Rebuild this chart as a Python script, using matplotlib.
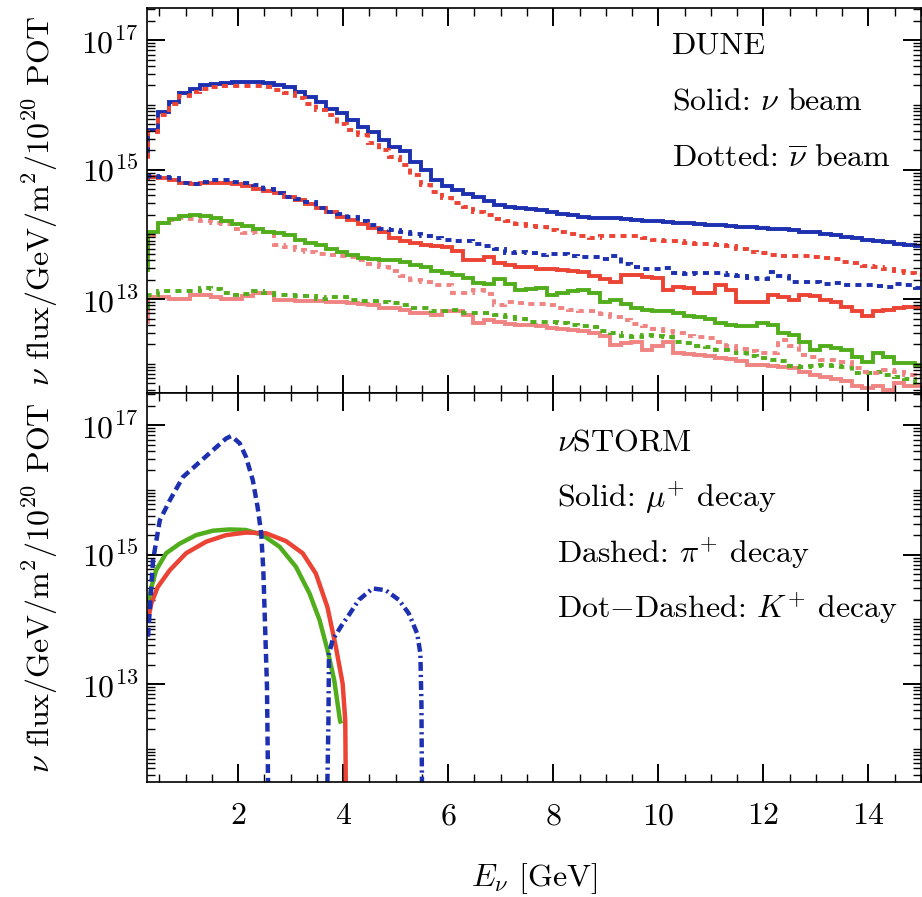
import numpy as np
import matplotlib
matplotlib.use('Agg')
import matplotlib.pyplot as plt
from matplotlib import ticker

plt.rcParams['font.family'] = 'serif'
plt.rcParams['font.serif'] = ['cmr10']
plt.rcParams['mathtext.fontset'] = 'cm'
plt.rcParams['axes.formatter.use_mathtext'] = True
plt.rcParams['axes.unicode_minus'] = False

# ---------------- DUNE fluxes (per GeV per m^2 per 1e20 POT), 0.2 GeV bins ----------------
bin_edges = np.linspace(0.08, 15.08, 76)

numu_nubeam = [1.6e15, 4.1e15, 7.8e15, 1.12e16, 1.51e16, 1.78e16, 2.0e16, 2.09e16, 2.19e16, 2.24e16,
               2.24e16, 2.29e16, 2.19e16, 2.0e16, 1.86e16, 1.58e16, 1.32e16, 1.12e16, 8.7e15, 7.4e15,
               5.75e15, 4.57e15, 3.8e15, 2.88e15, 2.24e15, 1.91e15, 1.32e15, 1.0e15, 6.9e14, 5.5e14,
               4.9e14, 4.27e14, 3.72e14, 3.24e14, 2.82e14, 2.69e14, 2.51e14, 2.45e14, 2.34e14, 2.24e14,
               2.09e14, 2.0e14, 1.86e14, 1.82e14, 1.82e14, 1.78e14, 1.74e14, 1.66e14, 1.62e14, 1.58e14,
               1.55e14, 1.51e14, 1.48e14, 1.45e14, 1.41e14, 1.38e14, 1.35e14, 1.32e14, 1.29e14, 1.26e14,
               1.23e14, 1.20e14, 1.15e14, 1.10e14, 1.07e14, 1.02e14, 9.8e13, 9.1e13, 8.7e13, 8.3e13,
               7.9e13, 7.6e13, 7.2e13, 6.8e13, 6.5e13]

numubar_nubarbeam = [1.48e15, 3.8e15, 6.9e15, 1.05e16, 1.35e16, 1.58e16, 1.78e16, 1.91e16, 1.95e16, 1.95e16,
                     1.95e16, 1.95e16, 1.86e16, 1.70e16, 1.51e16, 1.26e16, 1.05e16, 8.3e15, 6.9e15, 5.1e15,
                     4.1e15, 3.4e15, 2.57e15, 2.0e15, 1.55e15, 1.17e15, 8.3e14, 5.75e14, 4.57e14, 3.63e14,
                     3.09e14, 2.63e14, 2.24e14, 2.0e14, 1.70e14, 1.58e14, 1.45e14, 1.35e14, 1.29e14, 1.17e14,
                     1.10e14, 1.02e14, 9.3e13, 8.9e13, 9.3e13, 9.5e13, 9.5e13, 9.3e13, 8.7e13, 8.1e13,
                     7.9e13, 7.8e13, 7.4e13, 7.2e13, 7.1e13, 6.9e13, 6.5e13, 5.9e13, 5.4e13, 5.1e13,
                     4.8e13, 4.7e13, 4.6e13, 4.6e13, 4.5e13, 4.3e13, 4.1e13, 3.8e13, 3.55e13, 3.3e13,
                     3.1e13, 2.9e13, 2.75e13, 2.57e13, 2.34e13]

numubar_nubeam = [7.1e14, 7.8e14, 7.4e14, 6.8e14, 6.2e14, 6.0e14, 6.3e14, 6.3e14, 6.3e14, 6.0e14,
                  5.6e14, 5.1e14, 4.7e14, 4.3e14, 3.8e14, 3.4e14, 2.95e14, 2.51e14, 2.19e14, 1.86e14,
                  1.66e14, 1.45e14, 1.26e14, 1.10e14, 8.9e13, 7.9e13, 7.4e13, 6.9e13, 6.6e13, 6.3e13,
                  5.6e13, 4.0e13, 4.0e13, 4.5e13, 3.6e13, 3.4e13, 3.16e13, 3.1e13, 2.95e13, 2.88e13,
                  2.82e13, 2.75e13, 2.63e13, 2.29e13, 2.04e13, 1.86e13, 2.34e13, 2.34e13, 2.19e13, 2.09e13,
                  1.38e13, 1.55e13, 1.48e13, 1.23e13, 1.23e13, 1.66e13, 1.38e13, 9.1e12, 8.9e12, 9.1e12,
                  1.15e13, 1.07e13, 9.8e12, 1.15e13, 1.10e13, 9.8e12, 8.9e12, 7.6e12, 6.5e12, 5.4e12,
                  6.5e12, 6.8e12, 7.4e12, 7.6e12, 7.6e12]

numu_nubarbeam = [7.1e14, 7.9e14, 7.8e14, 7.4e14, 6.3e14, 6.0e14, 6.5e14, 6.8e14, 6.8e14, 6.5e14,
                  6.3e14, 5.75e14, 5.1e14, 4.37e14, 3.8e14, 3.47e14, 3.16e14, 2.51e14, 2.24e14, 2.04e14,
                  1.86e14, 1.58e14, 1.41e14, 1.23e14, 1.15e14, 1.07e14, 1.02e14, 9.5e13, 8.7e13, 8.1e13,
                  7.9e13, 7.8e13, 7.1e13, 6.5e13, 6.0e13, 5.1e13, 5.4e13, 5.1e13, 4.8e13, 5.0e13,
                  5.0e13, 4.6e13, 4.5e13, 4.5e13, 4.1e13, 4.7e13, 3.5e13, 3.16e13, 2.95e13, 2.88e13,
                  3.0e13, 2.51e13, 2.45e13, 2.51e13, 2.57e13, 2.51e13, 2.34e13, 2.24e13, 2.09e13, 2.04e13,
                  2.63e13, 2.24e13, 1.86e13, 1.86e13, 1.82e13, 1.74e13, 1.78e13, 1.66e13, 1.66e13, 1.66e13,
                  1.58e13, 1.55e13, 1.74e13, 1.66e13, 1.48e13]

nue_nubeam = [2.82e13, 1.07e14, 1.51e14, 1.70e14, 1.91e14, 2.0e14, 1.91e14, 1.78e14, 1.62e14, 1.45e14,
              1.35e14, 1.23e14, 1.10e14, 1.05e14, 9.8e13, 8.1e13, 7.4e13, 6.9e13, 6.0e13, 5.4e13,
              4.8e13, 4.37e13, 4.17e13, 4.07e13, 4.0e13, 3.8e13, 3.4e13, 3.16e13, 2.75e13, 2.51e13,
              2.34e13, 2.09e13, 1.78e13, 1.70e13, 2.04e13, 1.74e13, 1.38e13, 1.41e13, 1.48e13, 1.15e13,
              1.26e13, 1.35e13, 1.38e13, 1.23e13, 8.9e12, 9.8e12, 8.5e12, 7.2e12, 6.8e12, 6.6e12,
              6.5e12, 6.2e12, 5.4e12, 5.25e12, 4.9e12, 4.27e12, 4.0e12, 3.8e12, 3.9e12, 4.27e12,
              4.0e12, 2.95e12, 2.82e12, 2.19e12, 1.66e12, 1.86e12, 1.74e12, 1.62e12, 1.29e12, 1.07e12,
              1.45e12, 1.26e12, 1.02e12, 1.02e12, 9.5e11]

nuebar_nubarbeam = [3.0e13, 9.3e13, 1.48e14, 1.66e14, 1.78e14, 1.70e14, 1.58e14, 1.48e14, 1.45e14, 1.23e14,
                    1.05e14, 1.10e14, 1.07e14, 6.9e13, 6.3e13, 5.75e13, 5.25e13, 5.0e13, 4.8e13, 4.57e13,
                    4.47e13, 4.0e13, 3.47e13, 3.16e13, 2.75e13, 2.24e13, 2.0e13, 1.82e13, 1.66e13, 1.66e13,
                    1.26e13, 1.23e13, 1.38e13, 1.20e13, 8.1e12, 9.1e12, 8.7e12, 8.5e12, 8.5e12, 8.1e12,
                    7.2e12, 6.8e12, 6.5e12, 6.5e12, 5.9e12, 5.25e12, 4.8e12, 4.17e12, 3.8e12, 3.47e12,
                    3.24e12, 2.95e12, 2.69e12, 2.63e12, 2.51e12, 2.14e12, 1.86e12, 1.70e12, 1.55e12, 1.48e12,
                    1.48e12, 2.34e12, 1.86e12, 1.38e12, 1.26e12, 1.15e12, 1.15e12, 1.05e12, 8.5e11, 7.6e11,
                    7.2e11, 8.1e11, 7.6e11, 6.8e11, 6.3e11]

nuebar_nubeam = [4.5e12, 1.07e13, 1.07e13, 1.02e13, 1.0e13, 1.17e13, 1.17e13, 1.07e13, 1.02e13, 1.02e13,
                 1.12e13, 1.26e13, 1.23e13, 9.8e12, 9.8e12, 9.5e12, 9.5e12, 9.5e12, 9.1e12, 8.9e12,
                 8.7e12, 8.5e12, 8.1e12, 7.4e12, 7.2e12, 6.8e12, 6.2e12, 6.0e12, 5.75e12, 6.5e12,
                 6.5e12, 5.75e12, 4.27e12, 4.8e12, 4.47e12, 4.17e12, 4.0e12, 4.0e12, 3.9e12, 3.55e12,
                 3.4e12, 3.3e12, 3.24e12, 3.0e12, 2.69e12, 1.95e12, 2.09e12, 2.19e12, 1.66e12, 1.91e12,
                 2.19e12, 1.45e12, 1.41e12, 1.38e12, 1.32e12, 1.23e12, 1.17e12, 1.12e12, 9.5e11, 9.5e11,
                 9.1e11, 8.9e11, 8.5e11, 7.6e11, 6.8e11, 6.3e11, 5.75e11, 5.4e11, 4.5e11, 4.2e11,
                 4.5e11, 4.0e11, 5.0e11, 4.5e11, 4.5e11]

nue_nubarbeam = [7.1e12, 1.17e13, 1.32e13, 1.32e13, 1.32e13, 1.32e13, 1.51e13, 1.41e13, 1.23e13, 1.17e13,
                 1.20e13, 1.32e13, 1.23e13, 1.17e13, 1.17e13, 1.12e13, 1.10e13, 1.02e13, 1.07e13, 1.07e13,
                 9.8e12, 9.5e12, 9.5e12, 9.1e12, 8.7e12, 8.1e12, 7.4e12, 7.2e12, 6.6e12, 6.5e12,
                 6.9e12, 6.2e12, 6.0e12, 6.2e12, 5.75e12, 5.25e12, 4.9e12, 4.47e12, 4.47e12, 4.37e12,
                 4.27e12, 4.0e12, 3.9e12, 3.7e12, 3.24e12, 3.0e12, 2.69e12, 2.63e12, 2.82e12, 2.69e12,
                 2.63e12, 2.19e12, 2.09e12, 1.86e12, 1.82e12, 1.66e12, 1.62e12, 1.48e12, 1.32e12, 1.23e12,
                 1.15e12, 1.12e12, 9.3e11, 8.9e11, 9.1e11, 9.5e11, 9.3e11, 8.9e11, 7.1e11, 7.2e11,
                 7.4e11, 6.8e11, 6.3e11, 5.75e11, 5.0e11]

# ---------------- nuSTORM fluxes ----------------
pi_E = [0.285, 0.38, 0.51, 0.70, 0.95, 1.20, 1.52, 1.77, 1.87, 2.03, 2.15, 2.28, 2.37, 2.44, 2.48,
        2.51, 2.55, 2.57]
pi_flux = [5.4e13, 8.1e14, 3.4e15, 6.9e15, 1.58e16, 2.4e16, 4.1e16, 6.2e16, 6.8e16, 5.25e16, 3.24e16,
           1.41e16, 5.5e15, 2.14e15, 5.75e14, 9.8e13, 9.1e12, 3.0e11]

mu_nue_E = [0.285, 0.35, 0.44, 0.63, 0.89, 1.20, 1.52, 1.84, 2.15, 2.47, 2.79, 3.10, 3.36, 3.55,
            3.70, 3.83, 3.94, 3.96]
mu_nue_flux = [1.78e14, 3.16e14, 5.75e14, 1.05e15, 1.48e15, 2.0e15, 2.34e15, 2.45e15, 2.4e15, 2.0e15,
               1.32e15, 6.5e14, 2.51e14, 9.8e13, 3.4e13, 1.15e13, 2.75e12, 2.45e12]

mu_numubar_E = [0.285, 0.35, 0.47, 0.70, 1.01, 1.39, 1.77, 2.15, 2.53, 2.91, 3.23, 3.48, 3.70, 3.86,
                3.99, 4.04, 4.05]
mu_numubar_flux = [9.8e13, 1.78e14, 3.16e14, 5.75e14, 1.05e15, 1.58e15, 2.0e15, 2.19e15, 2.14e15,
                   1.62e15, 1.05e15, 5.1e14, 1.55e14, 3.8e13, 1.02e13, 2.75e12, 3.0e11]

k_E = [3.70, 3.72, 3.73, 3.80, 3.96, 4.11, 4.30, 4.56, 4.81, 5.06, 5.25, 5.41, 5.47, 5.49, 5.50]
k_flux = [3.0e11, 2.75e12, 2.95e13, 4.8e13, 7.8e13, 1.17e14, 2.0e14, 3.0e14, 2.82e14, 2.0e14,
          1.23e14, 6.0e13, 2.95e13, 5.0e12, 3.0e11]

xticks_major = [2, 4, 6, 8, 10, 12, 14]

BLUE = '#1c30b0'
RED = '#eb4334'
GREEN = '#52ad1c'
PINK = '#f08482'

fig = plt.figure(figsize=(9.22, 8.97), dpi=100)
ax1 = fig.add_axes([0.1591, 0.5615, 0.8398, 0.4292])
ax2 = fig.add_axes([0.1591, 0.1285, 0.8398, 0.4330])

LW = 2.8
dot = (0, (1.55, 1.35))
ax1.stairs(nuebar_nubeam, bin_edges, baseline=None, color=PINK, lw=LW)
ax1.stairs(nue_nubarbeam, bin_edges, baseline=None, color=GREEN, lw=LW, linestyle=dot)
ax1.stairs(nuebar_nubarbeam, bin_edges, baseline=None, color=PINK, lw=LW, linestyle=dot)
ax1.stairs(nue_nubeam, bin_edges, baseline=None, color=GREEN, lw=LW)
ax1.stairs(numubar_nubeam, bin_edges, baseline=None, color=RED, lw=LW)
ax1.stairs(numu_nubarbeam, bin_edges, baseline=None, color=BLUE, lw=LW, linestyle=dot)
ax1.stairs(numu_nubeam, bin_edges, baseline=None, color=BLUE, lw=LW)
ax1.stairs(numubar_nubarbeam, bin_edges, baseline=None, color=RED, lw=LW, linestyle=dot)

ax2.plot(mu_nue_E, mu_nue_flux, color=GREEN, lw=3.2, solid_capstyle='butt')
ax2.plot(mu_numubar_E, mu_numubar_flux, color=RED, lw=3.2, solid_capstyle='butt')
ax2.plot(pi_E, pi_flux, color=BLUE, lw=3.2, linestyle=(0, (2.0, 1.1)))
ax2.plot(k_E, k_flux, color=BLUE, lw=3.2, linestyle=(0, (2.0, 0.9, 0.5, 0.9)))

ax1.set_ylim(3.5e11, 3.1e17)
ax2.set_ylim(3.1e11, 3.1e17)

minor_y = [m * 10.0 ** e for e in range(11, 18) for m in range(1, 10) if not (m == 1 and e % 2 == 1)]

ylabel = r'$\nu$ flux/GeV/m$^2$/10$^{20}$ POT'
for ax in (ax1, ax2):
    ax.set_yscale('log')
    ax.set_xlim(0.26, 15)
    ax.xaxis.set_major_locator(ticker.FixedLocator(xticks_major))
    ax.xaxis.set_minor_locator(ticker.MultipleLocator(0.5))
    ax.yaxis.set_major_locator(ticker.FixedLocator([1e13, 1e15, 1e17]))
    ax.yaxis.set_minor_locator(ticker.FixedLocator(minor_y))
    ax.yaxis.set_major_formatter(ticker.FuncFormatter(
        lambda v, p: r'$10^{%d}$' % int(round(np.log10(v)))))
    ax.yaxis.set_minor_formatter(ticker.NullFormatter())
    ax.xaxis.set_major_formatter(ticker.FuncFormatter(lambda v, p: r'$%d$' % int(round(v))))
    ax.tick_params(which='both', direction='in', top=True, right=True)
    ax.tick_params(which='major', length=13, width=1.4, labelsize=23)
    ax.tick_params(which='minor', length=6, width=1.0)
    ax.tick_params(axis='y', pad=6)
    ax.tick_params(axis='x', pad=15)
    for s in ax.spines.values():
        s.set_linewidth(1.2)
    ax.set_ylabel(ylabel, fontsize=23)
    ax.yaxis.set_label_coords(-0.112, 0.5)

ax1.tick_params(labelbottom=False)
ax2.set_xlabel(r'$E_\nu$ [GeV]', fontsize=23)
ax2.xaxis.set_label_coords(0.5, -0.205)

FS = 23
ax1.text(0.678, 0.884, 'DUNE', transform=ax1.transAxes, fontsize=FS, va='baseline')
ax1.text(0.678, 0.736, r'Solid: $\nu$ beam', transform=ax1.transAxes, fontsize=FS, va='baseline')
ax1.text(0.678, 0.588, r'Dotted: $\overline{\nu}$ beam', transform=ax1.transAxes, fontsize=FS, va='baseline')

ax2.text(0.530, 0.854, r'$\nu$STORM', transform=ax2.transAxes, fontsize=FS, va='baseline')
ax2.text(0.530, 0.707, r'Solid: $\mu^{+}$ decay', transform=ax2.transAxes, fontsize=FS, va='baseline')
ax2.text(0.530, 0.563, r'Dashed: $\pi^{+}$ decay', transform=ax2.transAxes, fontsize=FS, va='baseline')
ax2.text(0.530, 0.421, r'Dot$-$Dashed: $K^{+}$ decay', transform=ax2.transAxes, fontsize=FS, va='baseline')

fig.savefig('out.png', dpi=100)
